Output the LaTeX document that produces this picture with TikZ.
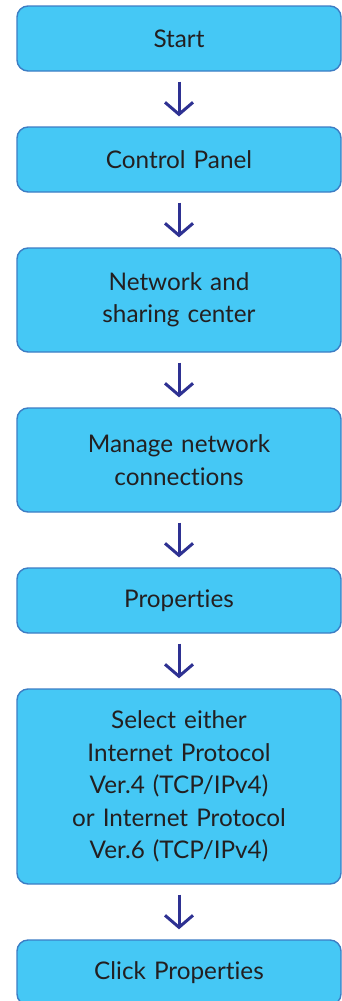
\documentclass[tikz,border=0pt]{standalone}
\usepackage{fontspec}
\setmainfont{Lato}[Ligatures={NoCommon,NoRare}]
\usetikzlibrary{arrows.meta}
\definecolor{boxfill}{HTML}{45C8F5}
\definecolor{boxedge}{HTML}{3C7DC4}
\definecolor{arrowblue}{HTML}{2E3192}
\definecolor{txt}{HTML}{231F20}
\begin{document}
\begin{tikzpicture}[x=1pt,y=1pt,
  stepbox/.style={draw=boxedge, line width=1.4pt, fill=boxfill, rounded corners=11pt,
    minimum width=324pt, text width=315pt, align=center, inner sep=0pt,
    text=txt, font=\fontsize{24.3}{32.5}\selectfont},
  flow/.style={draw=arrowblue, line width=3pt, shorten <=10pt, shorten >=10pt,
    -{Straight Barb[length=12pt,width=28pt,line width=3pt]}}]
\useasboundingbox (0,0) rectangle (342,-1001);
\begin{scope}
\clip (0,0) rectangle (342,-1001);
\node[stepbox, minimum height=65pt] (s1) at (179,-38.5) {Start};
\node[stepbox, minimum height=65pt] (s2) at (179,-159.5) {Control Panel};
\node[stepbox, minimum height=104pt] (s3) at (179,-300) {Network and\\sharing center};
\node[stepbox, minimum height=104pt] (s4) at (179,-460) {Manage network\\connections};
\node[stepbox, minimum height=65pt] (s5) at (179,-600.5) {Properties};
\node[stepbox, minimum height=195pt] (s6) at (179,-786.5) {Select either\\Internet Protocol\\Ver.4 (TCP/IPv4)\\or Internet Protocol\\Ver.6 (TCP/IPv4)};
\node[stepbox, minimum height=65pt] (s7) at (179,-972.5) {Click Properties};
\draw[flow] (s1.south) -- (s2.north);
\draw[flow] (s2.south) -- (s3.north);
\draw[flow] (s3.south) -- (s4.north);
\draw[flow] (s4.south) -- (s5.north);
\draw[flow] (s5.south) -- (s6.north);
\draw[flow] (s6.south) -- (s7.north);
\end{scope}
\end{tikzpicture}
\end{document}
